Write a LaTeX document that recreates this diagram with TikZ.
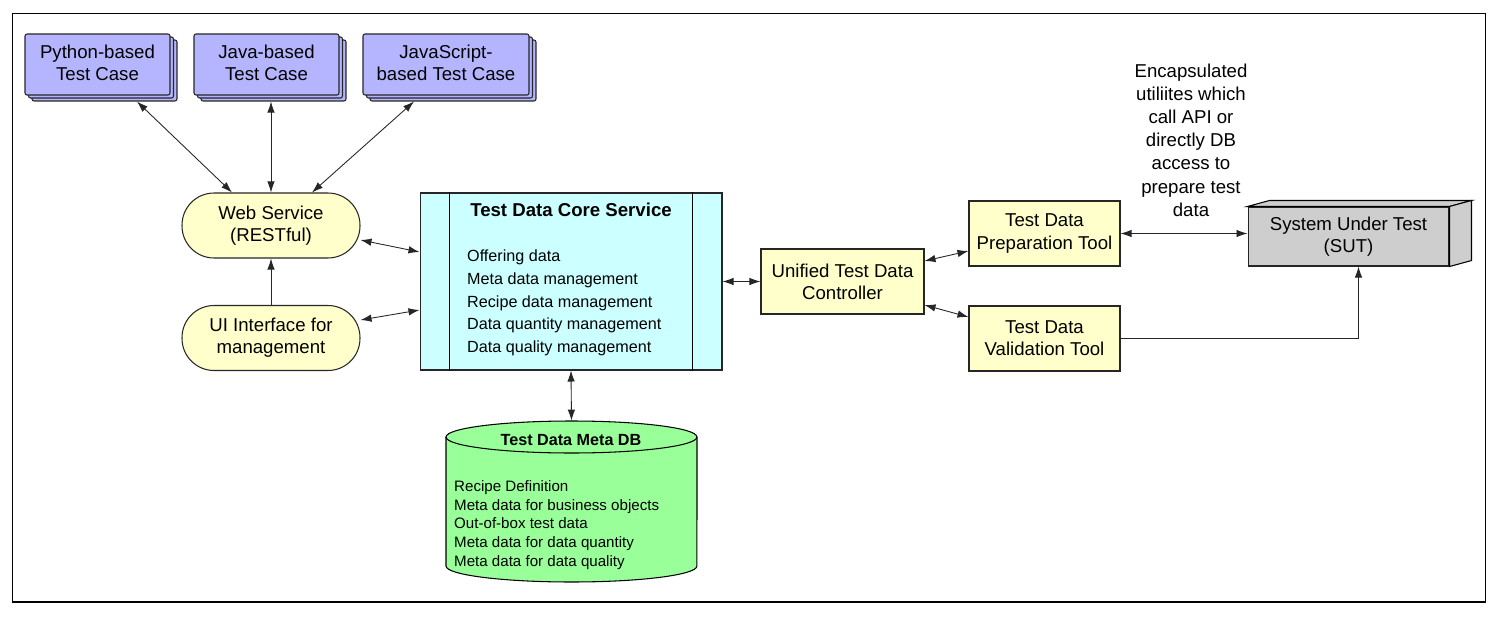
\documentclass[tikz,border=0pt]{standalone}
\usepackage{fontspec}
\setmainfont{Liberation Sans}
\usetikzlibrary{arrows.meta,shadows}
\definecolor{tcblue}{RGB}{181,181,255}
\definecolor{ylw}{RGB}{255,255,204}
\definecolor{cyn}{RGB}{204,255,255}
\definecolor{grn}{RGB}{153,255,153}
\definecolor{sutgray}{RGB}{206,206,206}
\begin{document}
\begin{tikzpicture}[x=0.02cm, y=-0.02cm, >={Latex[length=0.22cm,width=0.15cm]},
  font=\fontsize{10.6}{12.6}\selectfont]
\tikzstyle{tcase} = [draw=black!85, fill=tcblue, line width=0.6pt, rounded corners=0.04cm, minimum height=1.22cm, align=center, double copy shadow={shadow xshift=0.07cm, shadow yshift=-0.06cm}]
\tikzstyle{pill} = [draw=black!85, fill=ylw, line width=0.6pt, rounded corners=0.64cm, minimum width=3.56cm, minimum height=1.3cm, align=center]
\tikzstyle{box} = [draw=black!85, fill=ylw, line width=0.6pt, minimum height=1.3cm, align=center]
\tikzstyle{link} = [draw=black!85, line width=0.5pt]

\useasboundingbox (0,0) rectangle (1499,619);
\draw[line width=0.6pt] (12.5,13.5) rectangle (1485.5,602);

% test cases
\node[tcase, minimum width=2.9cm] (py) at (97.5,64.5) {Python-based\\Test Case\vphantom{g}};
\node[tcase, minimum width=2.9cm] (java) at (266.5,64.5) {Java-based\\Test Case\vphantom{g}};
\node[tcase, minimum width=3.32cm] (js) at (446,64.5) {JavaScript-\\based Test Case\vphantom{g}};

% front ends
\node[pill] (ws) at (271,225.5) {Web Service\\(RESTful)};
\node[pill] (ui) at (271,338) {UI Interface for\\management};

% core service
\node[draw=black!85, fill=cyn, line width=0.6pt, minimum width=6.04cm, minimum height=3.54cm] (core) at (571,281.5) {};
\draw[line width=0.6pt] ([xshift=0.6cm]core.north west) -- ([xshift=0.6cm]core.south west);
\draw[line width=0.6pt] ([xshift=-0.6cm]core.north east) -- ([xshift=-0.6cm]core.south east);
\node[font=\fontsize{10.6}{12.6}\selectfont\bfseries] (coretitle) at (571,210) {Test Data Core Service};
\node[anchor=west, align=left, font=\fontsize{9.2}{12.9}\selectfont] (coreitems) at (461,303) {Offering data\\Meta data management\\Recipe data management\\Data quantity management\\Data quality management};

% meta db
\node[minimum width=5.02cm, minimum height=3.22cm] (db) at (571.5,501.5) {};
\draw[fill=grn, line width=0.6pt] (446,437) -- (446,566) arc[start angle=180, end angle=360, x radius=2.51cm, y radius=0.32cm] -- (697,437) arc[start angle=0, end angle=180, x radius=2.51cm, y radius=0.32cm] -- cycle;
\draw[line width=0.6pt] (446,437) arc[start angle=180, end angle=360, x radius=2.51cm, y radius=0.32cm];
\node[font=\fontsize{9.2}{11}\selectfont\bfseries] (dbtitle) at (571,440) {Test Data Meta DB};
\node[anchor=west, align=left, font=\fontsize{8.6}{10.7}\selectfont] (dbitems) at (448,525) {Recipe Definition\\Meta data for business objects\\Out-of-box test data\\Meta data for data quantity\\Meta data for data quality};

% controller and tools
\node[box, minimum width=3.26cm] (ctrl) at (842.5,281.5) {Unified Test Data\\Controller};
\node[box, minimum width=3.02cm] (prep) at (1044.5,233.5) {Test Data\\Preparation Tool};
\node[box, minimum width=3.02cm] (val) at (1044.5,338.5) {Test Data\\Validation Tool};

% system under test
\node[draw=black!85, fill=sutgray, line width=0.6pt, minimum width=4.02cm, minimum height=1.18cm, align=center] (sut) at (1348.5,236.5) {System Under Test\\(SUT)};
\draw[fill=sutgray, line width=0.6pt] (sut.north west) -- ([shift={(22,-6)}]sut.north west) -- ([shift={(22,-6)}]sut.north east) -- (sut.north east) -- cycle;
\draw[fill=sutgray, line width=0.6pt] (sut.north east) -- ([shift={(22,-6)}]sut.north east) -- ([shift={(22,-6)}]sut.south east) -- (sut.south east) -- cycle;

\node[align=center, font=\fontsize{10.6}{13.2}\selectfont] (note) at (1191,140) {Encapsulated\\utiliites which\\call API or\\directly DB\\access to\\prepare test\\data};

% connectors
\draw[link, <->] ([xshift=0.79cm,yshift=-0.12cm]py.south) -- ([xshift=-0.78cm]ws.north);
\draw[link, <->] ([yshift=-0.12cm]java.south -| ws.north) -- (ws.north);
\draw[link, <->] ([xshift=-0.64cm,yshift=-0.12cm]js.south) -- ([xshift=0.82cm]ws.north);
\draw[link, ->] (ui) -- (ws);
\draw[link, <->] ([yshift=-0.29cm]ws.east) -- ([yshift=0.59cm]core.west);
\draw[link, <->] ([yshift=0.36cm]ui.east) -- ([yshift=-0.57cm]core.west);
\draw[link, <->] (core.south) -- (db.north);
\draw[link, <->] (core) -- (ctrl);
\draw[link, <->] ([yshift=0.41cm]ctrl.east) -- ([yshift=-0.35cm]prep.west);
\draw[link, <->] ([yshift=-0.47cm]ctrl.east) -- ([yshift=0.43cm]val.west);
\draw[link, <->] (prep.east) -- (prep.east -| sut.west);
\draw[link, ->] (val.east) -| ([xshift=0.2cm]sut.south);
\end{tikzpicture}
\end{document}
